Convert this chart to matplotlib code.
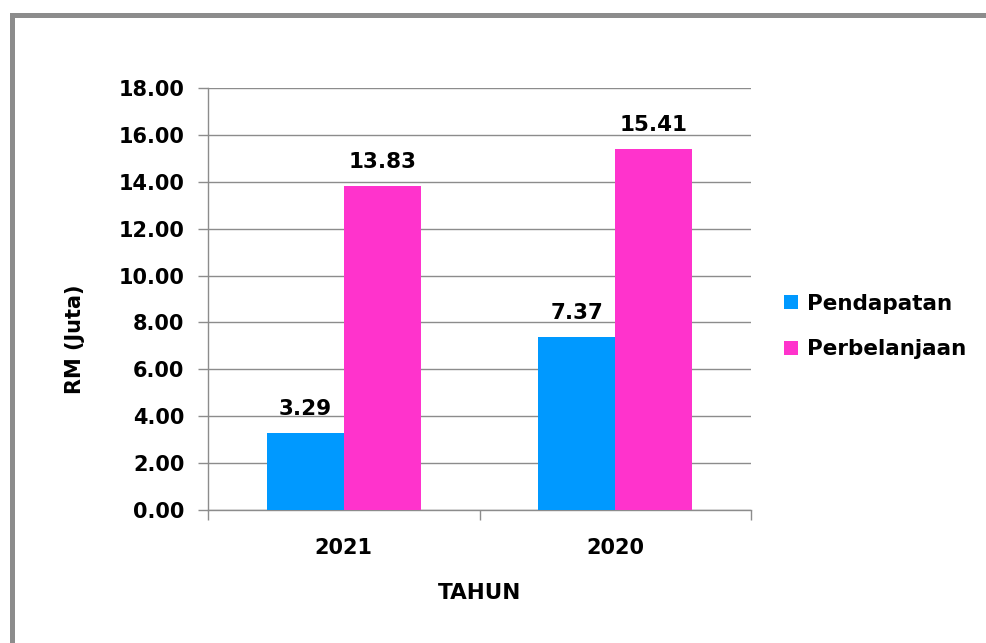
import matplotlib
matplotlib.use("Agg")
import matplotlib.pyplot as plt
from matplotlib.patches import Rectangle
import numpy as np

years = ["2021", "2020"]
pendapatan = [3.29, 7.37]
perbelanjaan = [13.83, 15.41]
series_names = ["Pendapatan", "Perbelanjaan"]
y_ticks = [0, 2, 4, 6, 8, 10, 12, 14, 16, 18]

blue = "#0099FF"
pink = "#FF33CC"
grid_grey = "#8C8C8C"

plt.rcParams["font.family"] = ["DejaVu Sans"]
plt.rcParams["font.weight"] = "bold"

W, H = 986, 643
fig = plt.figure(figsize=(W / 100, H / 100), dpi=100)
fig.patch.set_facecolor("white")

# axes box in pixel terms
left, right, top, bottom = 208, 751, 88, 510
ax = fig.add_axes([left / W, 1 - bottom / H, (right - left) / W, (bottom - top) / H])

x = np.arange(len(years))
bw = 0.283
b1 = ax.bar(x - bw / 2, pendapatan, bw, color=blue, label=series_names[0], zorder=3)
b2 = ax.bar(x + bw / 2, perbelanjaan, bw, color=pink, label=series_names[1], zorder=3)

for bars, vals in ((b1, pendapatan), (b2, perbelanjaan)):
    for rect, v in zip(bars, vals):
        ax.annotate(f"{v:.2f}", (rect.get_x() + rect.get_width() / 2, v),
                    xytext=(0, 10), textcoords="offset points",
                    ha="center", va="bottom", fontsize=15.5, fontweight="bold")

ax.set_xlim(-0.5, 1.5)
ax.set_ylim(0, 18)
ax.set_yticks(y_ticks)
ax.set_yticklabels([f"{t:.2f}" for t in y_ticks], fontsize=15, fontweight="bold")
ax.yaxis.grid(True, color=grid_grey, linewidth=1.0, zorder=0)
ax.set_axisbelow(True)

# category labels centred, tick marks on category boundaries
ax.set_xticks(x)
ax.set_xticklabels(years, fontsize=15, fontweight="bold")
ax.tick_params(axis="x", length=0, pad=20)
ax.set_xticks([-0.5, 0.5, 1.5], minor=True)
ax.tick_params(axis="x", which="minor", length=7, color=grid_grey, width=1.0, direction="out")
ax.tick_params(axis="y", length=7, color=grid_grey, width=1.0, direction="out", pad=10)

for s in ("top", "right"):
    ax.spines[s].set_visible(False)
for s in ("left", "bottom"):
    ax.spines[s].set_color(grid_grey)
    ax.spines[s].set_linewidth(1.0)

ax.set_ylabel("RM (Juta)", fontsize=15, fontweight="bold")
ax.yaxis.set_label_coords(-0.226, 0.405)
ax.set_xlabel("TAHUN", fontsize=15.5, fontweight="bold", labelpad=18)

leg = ax.legend(loc="center left", bbox_to_anchor=(1.045, 0.435), frameon=False,
                fontsize=15.5, handlelength=0.65, handleheight=0.65,
                handletextpad=0.4, labelspacing=1.2, borderaxespad=0)
for t in leg.get_texts():
    t.set_fontweight("bold")

# outer frame, running off the right and bottom edges
fig.add_artist(Rectangle((11.5 / W, -0.2), 1.2, 1 - 14.5 / H + 0.2,
                         transform=fig.transFigure, fill=False,
                         edgecolor="#8C8C8C", linewidth=3.6, zorder=10))

fig.savefig("out.png", dpi=100)
